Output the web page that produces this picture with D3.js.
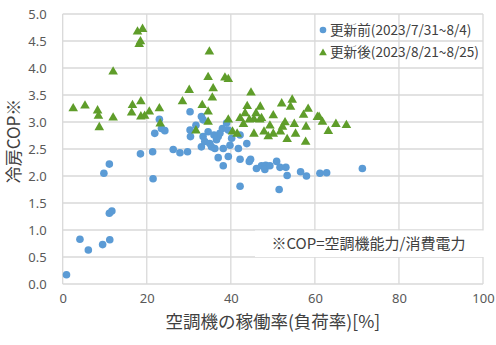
<!DOCTYPE html>
<html>
<head>
<meta charset="utf-8">
<script src="https://cdn.jsdelivr.net/npm/d3@7"></script>
<style>
  html, body { margin: 0; padding: 0; background: #fff; }
  svg { display: block; font-family: "Noto Sans CJK JP", "Noto Sans", sans-serif; }
</style>
</head>
<body>
<svg id="chart" width="496" height="345"></svg>
<script>
// Load factor [%] and cooling COP, before the air-conditioner replacement
const beforeLoad = [0.9, 4.1, 6.1, 9.5, 11.2, 11.1, 11.7, 9.8, 11.1, 18.5, 21.4, 21.5, 21.9, 23.0, 23.5, 24.3,
  26.3, 27.9, 29.7, 30.3, 30.3, 30.4, 31.7, 33.0, 33.4, 33.0, 33.4, 33.8, 34.6, 35.0, 35.4, 36.2, 36.6, 37.0,
  37.4, 37.0, 38.0, 36.0, 39.0, 39.4, 40.2, 42.2, 43.8, 41.8, 39.8, 38.2, 39.4, 38.2, 42.2, 44.7, 44.4, 46.1,
  47.3, 48.3, 48.1, 49.3, 50.9, 51.7, 53.1, 53.4, 56.6, 58.0, 42.2, 51.5, 61.2, 62.8, 71.3];
const beforeCop = [0.17, 0.83, 0.63, 0.73, 0.82, 1.31, 1.35, 2.05, 2.22, 2.41, 2.45, 1.95, 2.79, 3.05, 2.88, 2.84,
  2.49, 2.43, 2.45, 3.19, 2.85, 2.73, 2.94, 3.10, 3.04, 2.54, 2.73, 2.64, 2.82, 2.60, 2.54, 2.51, 2.67, 2.73,
  2.79, 2.34, 2.88, 2.76, 2.98, 2.85, 2.70, 2.76, 2.60, 2.51, 2.57, 2.51, 2.36, 2.19, 2.31, 2.31, 2.27, 2.14,
  2.19, 2.20, 2.12, 2.19, 2.27, 2.16, 2.16, 2.01, 2.08, 2.00, 1.81, 1.75, 2.05, 2.06, 2.14];

// Load factor [%] and cooling COP, after the replacement
const afterLoad = [2.5, 5.3, 8.3, 8.5, 8.7, 12.0, 12.0, 16.6, 16.4, 18.6, 17.8, 19.0, 18.2, 18.5, 18.6, 19.5,
  20.6, 23.0, 23.2, 30.1, 28.5, 33.2, 34.6, 34.6, 31.7, 35.8, 35.6, 34.9, 34.6, 38.6, 39.4, 44.8, 43.9, 47.0,
  46.0, 42.2, 44.4, 45.5, 46.9, 43.0, 39.4, 40.4, 41.5, 50.1, 52.1, 54.6, 54.2, 57.3, 58.4, 52.9, 52.3, 55.1,
  51.8, 49.3, 47.9, 48.9, 50.1, 45.5, 53.4, 57.9, 57.8, 55.4, 61.0, 61.8, 63.2, 65.0, 67.5, 43.4, 47.3, 60.6];
const afterCop = [3.25, 3.30, 3.21, 3.11, 2.90, 3.93, 3.08, 3.31, 3.17, 3.38, 4.67, 4.72, 4.44, 4.49, 3.10, 3.11,
  3.19, 3.25, 2.97, 3.59, 3.38, 3.31, 3.19, 3.00, 2.84, 3.62, 3.45, 4.30, 3.83, 3.82, 3.79, 3.54, 3.29, 3.28,
  3.16, 3.07, 3.04, 3.05, 3.04, 2.96, 3.04, 2.82, 2.78, 3.12, 3.34, 3.41, 3.28, 3.13, 3.24, 2.99, 2.91, 2.96,
  2.82, 2.93, 2.82, 2.73, 2.78, 2.78, 2.68, 2.91, 2.63, 2.78, 3.09, 3.00, 2.83, 2.96, 2.94, 3.16, 3.07, 3.09];

const seriesNames = ["更新前(2023/7/31~8/4)", "更新後(2023/8/21~8/25)"];
const xTicks = [0, 20, 40, 60, 80, 100];
const yTicks = [0, 0.5, 1, 1.5, 2, 2.5, 3, 3.5, 4, 4.5, 5];
const xTitle = "空調機の稼働率(負荷率)[%]";
const yTitle = "冷房COP※";
const note = "※COP=空調機能力/消費電力";

const W = 496, H = 345;
const margin = { top: 14, right: 13, bottom: 61, left: 62.7 };
const blue = "#5b9bd5", green = "#5f9d2a";
const gridColor = "#d9d9d9", tickColor = "#595959", textColor = "#404040";

const svg = d3.select("#chart");
const x = d3.scaleLinear().domain([0, 100]).range([margin.left, W - margin.right]);
const y = d3.scaleLinear().domain([0, 5]).range([H - margin.bottom, margin.top]);

// Gridlines
svg.append("g").selectAll("line").data(yTicks).join("line")
  .attr("x1", x(0)).attr("x2", x(100))
  .attr("y1", d => y(d)).attr("y2", d => y(d))
  .attr("stroke", gridColor).attr("stroke-width", 1.3);
svg.append("g").selectAll("line").data(xTicks).join("line")
  .attr("y1", y(0)).attr("y2", y(5))
  .attr("x1", d => x(d)).attr("x2", d => x(d))
  .attr("stroke", gridColor).attr("stroke-width", 1.3);

// Axes (labels only; lines come from the grid)
const xAxis = svg.append("g").attr("transform", `translate(0,${y(0)})`)
  .call(d3.axisBottom(x).tickValues(xTicks).tickSize(0).tickPadding(10).tickFormat(d3.format("d")));
const yAxis = svg.append("g").attr("transform", `translate(${x(0)},0)`)
  .call(d3.axisLeft(y).tickValues(yTicks).tickSize(0).tickPadding(16).tickFormat(d3.format(".1f")));
[xAxis, yAxis].forEach(a => {
  a.select(".domain").remove();
  a.selectAll("text").attr("fill", tickColor).style("font-size", "13px")
    .style("font-family", "'Noto Sans', 'Noto Sans CJK JP', sans-serif");
});

// Data points
const before = beforeLoad.map((v, i) => [v, beforeCop[i]]);
const after = afterLoad.map((v, i) => [v, afterCop[i]]);
const tri = d3.symbol().type(d3.symbolTriangle).size(40);

svg.append("g").selectAll("circle").data(before).join("circle")
  .attr("cx", d => x(d[0])).attr("cy", d => y(d[1])).attr("r", 3.8)
  .attr("fill", blue);
svg.append("g").selectAll("path").data(after).join("path")
  .attr("d", tri)
  .attr("transform", d => `translate(${x(d[0])},${y(d[1])})`)
  .attr("fill", green);

// Legend
const legend = svg.append("g").attr("transform", `translate(323, 0)`);
legend.append("circle").attr("cx", 0).attr("cy", 30).attr("r", 3.3).attr("fill", blue);
legend.append("path").attr("d", d3.symbol().type(d3.symbolTriangle).size(26))
  .attr("transform", "translate(0,53)").attr("fill", green);
legend.selectAll("text").data(seriesNames).join("text")
  .attr("x", 7).attr("y", (d, i) => 30 + i * 22.7)
  .attr("dy", "0.35em")
  .attr("fill", textColor).style("font-size", "13.6px")
  .text(d => d);

// Note box
svg.append("rect").attr("x", 255).attr("y", 230.5).attr("width", x(100) - 255 + 1).attr("height", 26.5)
  .attr("fill", "#fff");
svg.append("text").attr("x", 271.5).attr("y", 243.5).attr("dy", "0.35em")
  .attr("fill", textColor).style("font-size", "15px").text(note);

// Axis titles
svg.append("text").attr("x", (x(0) + x(100)) / 2).attr("y", 322).attr("dy", "0.35em")
  .attr("text-anchor", "middle").attr("fill", textColor).style("font-size", "17.5px").text(xTitle);
svg.append("text").attr("transform", `translate(14,${(y(0) + y(5)) / 2 - 8}) rotate(-90)`)
  .attr("dy", "0.35em").attr("text-anchor", "middle")
  .attr("fill", textColor).style("font-size", "17px").text(yTitle);
</script>
</body>
</html>
